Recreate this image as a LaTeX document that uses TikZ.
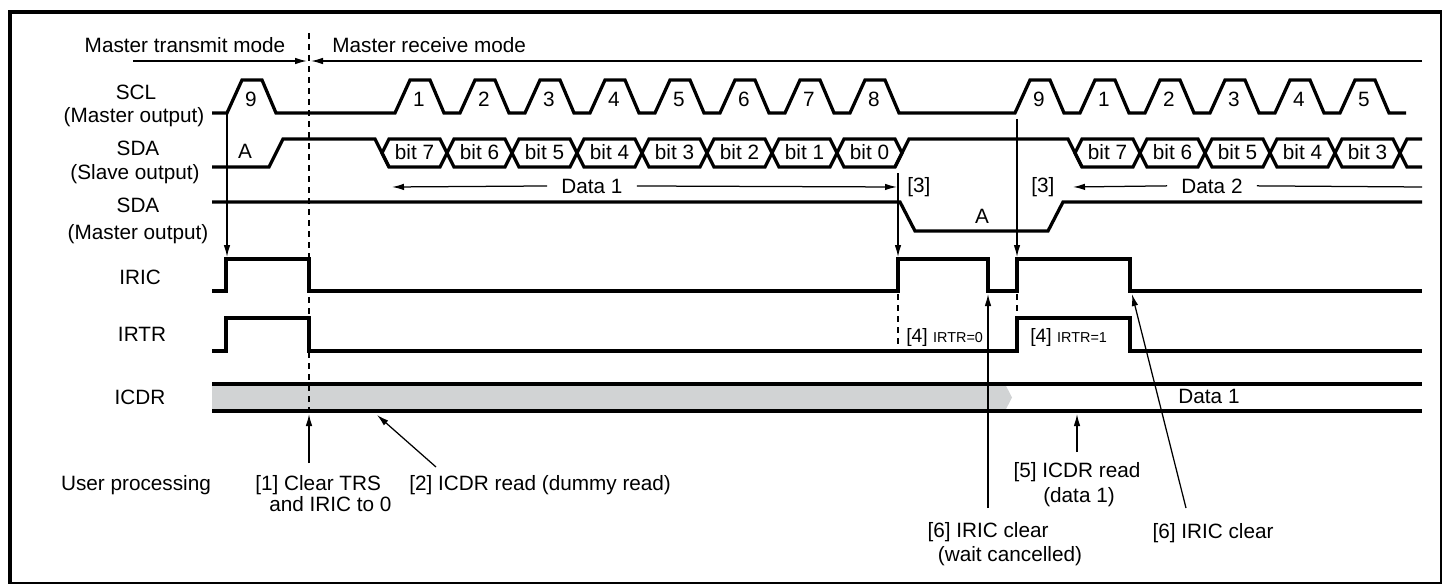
\documentclass[tikz,border=0pt]{standalone}
\usepackage{fontspec}
\setmainfont{Liberation Sans}
\usetikzlibrary{arrows.meta}
\newcommand{\tdfont}{\fontsize{11.8}{14}\selectfont}
\newcommand{\tdmid}{\fontsize{11}{13}\selectfont}
\newcommand{\tdsmall}{\fontsize{8.2}{10}\selectfont}
\definecolor{regfill}{RGB}{209,211,212}
\begin{document}
\begin{tikzpicture}[
        x=0.2mm, y=-0.2mm,
        >={Latex[length=2.4mm,width=1.3mm]},
        wave/.style={line width=0.65mm},
        thinline/.style={line width=0.25mm},
        arr/.style={->, thinline},
        dashline/.style={thinline, dash pattern=on 1.2mm off 1mm},
        frame/.style={line width=0.8mm},
        every node/.style={font=\tdfont, inner sep=0pt},
        txt/.style={anchor=base}
    ]
    \useasboundingbox (0,0) rectangle (1442,584);
    \draw[frame] (10,12.5) rectangle (1442,584);

    % modes
    \node[txt] (txmode) at (185,53) {Master transmit mode};
    \node[txt, anchor=base west] (rxmode) at (332,53) {Master receive mode};
    \coordinate (modeL) at (133,61);
    \coordinate (modeR) at (1422,61);
    \coordinate (modeA) at (307,61);
    \coordinate (modeB) at (311,61);
    \draw[arr] (modeL) -- (modeA);
    \draw[arr] (modeR) -- (modeB);

    % signal names
    \node[txt] (sclname) at (136,99.5) {SCL};
    \node[txt] (sclsrc) at (134,122.5) {(Master output)};
    \node[txt] (sdasname) at (138,155.5) {SDA};
    \node[txt] (sdassrc) at (135,179.5) {(Slave output)};
    \node[txt] (sdamname) at (138,212) {SDA};
    \node[txt] (sdamsrc) at (138,239) {(Master output)};
    \node[txt] (iricname) at (140,284.5) {IRIC};
    \node[txt] (irtrname) at (142,341.5) {IRTR};
    \node[txt] (icdrname) at (140,404.5) {ICDR};
    \node[txt] (userproc) at (136,490) {User processing};

    % ICDR
    \fill[regfill] (212,384) -- (1005,384) -- (1012,397.5) -- (1005,411) -- (212,411) -- cycle;
    \draw[wave] (212,384) -- (1422,384);
    \draw[wave] (212,411) -- (1422,411);
    \node[txt] (icdrdata) at (1209,403) {Data 1};

    % mode change
    \draw[dashline] (309,33) -- (309,412);

    % SCL
    \draw[wave] (212,113)
        foreach \p in {227,395,460,525,590,655,720,785,850,1015,1080,1145,1210,1275,1340}
        { -- (\p,113) -- ++(15,-33) -- ++(20,0) -- ++(14,33) } -- (1406,113);
    \foreach \p/\n in {227/9,395/1,460/2,525/3,590/4,655/5,720/6,785/7,850/8,
                       1015/9,1080/1,1145/2,1210/3,1275/4,1340/5}
        \node[txt] (scl\p) at (\p+24,107) {\n};

    % SDA (slave)
    \draw[wave] (212,167) -- (269,167) -- (283,139) -- (375,139) -- (389,167);
    \node[txt] (slvack) at (245,159) {A};
    \foreach \c/\b in {382/7,447/6,512/5,577/4,642/3,707/2,772/1,837/0} {
        \draw[wave] (\c,153) -- ++(7,-14) -- ++(51,0) -- ++(7,14) -- ++(-7,14) -- ++(-51,0) -- cycle;
        \node[txt] (bitA\b) at (\c+32.5,160) {bit \b};
    }
    \draw[wave] (895,167) -- (909,139) -- (1068,139) -- (1082,167);
    \foreach \c/\b in {1075/7,1140/6,1205/5,1270/4,1335/3} {
        \draw[wave] (\c,153) -- ++(7,-14) -- ++(51,0) -- ++(7,14) -- ++(-7,14) -- ++(-51,0) -- cycle;
        \node[txt] (bitB\b) at (\c+32.5,160) {bit \b};
    }
    \draw[wave] (1422,139) -- (1407,139) -- (1400,153) -- (1407,167) -- (1422,167);

    % data ranges
    \node[txt] (data1) at (592,193) {Data 1};
    \node[txt] (data2) at (1212,193) {Data 2};
    \node[txt, anchor=base west] (stop3a) at (907,192) {[3]};
    \node[txt, anchor=base west] (stop3b) at (1031,192) {[3]};
    \coordinate (d1L) at (392,187);
    \coordinate (d1R) at (897,187);
    \coordinate (d2L) at (1073,187);
    \coordinate (d2R) at (1422,187);
    \draw[arr] ([xshift=-2.8mm]data1.west) -- (d1L);
    \draw[arr] ([xshift=2.8mm]data1.east) -- (d1R);
    \draw[arr] ([xshift=-2.8mm]data2.west) -- (d2L);
    \draw[thinline] ([xshift=2.8mm]data2.east) -- (d2R);

    % SDA (master)
    \draw[wave] (212,202) -- (900,202) -- (915,231) -- (1048,231) -- (1063,202) -- (1422,202);
    \node[txt] (mstack) at (982,223) {A};

    % IRIC, IRTR
    \draw[wave] (212,291) -- (226,291) -- (226,259) -- (309,259) -- (309,291) -- (898,291)
        -- (898,259) -- (988,259) -- (988,291) -- (1017,291) -- (1017,259) -- (1130,259)
        -- (1130,291) -- (1422,291);
    \draw[wave] (212,351) -- (226,351) -- (226,318) -- (309,318) -- (309,351) -- (1017,351)
        -- (1017,318) -- (1130,318) -- (1130,351) -- (1422,351);
    \node[txt, anchor=base west, font=\tdmid] (irtr0) at (906,342) {[4] {\tdsmall IRTR=0}};
    \node[txt, anchor=base west, font=\tdmid] (irtr1) at (1030,342) {[4] {\tdsmall IRTR=1}};

    % interrupt requests
    \coordinate (scl9a) at (227,113);
    \coordinate (iricA) at (227,257);
    \coordinate (bit0end) at (898,173);
    \coordinate (iricB) at (898,257);
    \coordinate (scl9b) at (1017,119);
    \coordinate (iricC) at (1017,257);
    \draw[arr] (scl9a) -- (iricA);
    \draw[arr] (bit0end) -- (iricB);
    \draw[arr] (scl9b) -- (iricC);
    \draw[dashline] (898,294) -- (898,351);
    \draw[dashline] (1017,294) -- (1017,318);

    % user processing
    \node[txt, anchor=base west] (step1a) at (255,490) {[1] Clear TRS};
    \node[txt, anchor=base west] (step1b) at (269,511) {and IRIC to 0};
    \node[txt, anchor=base west] (step2) at (409,490) {[2] ICDR read (dummy read)};
    \node[txt] (step5a) at (1077,477) {[5] ICDR read};
    \node[txt] (step5b) at (1079,502) {(data 1)};
    \node[txt] (step6a) at (988,537) {[6] IRIC clear};
    \node[txt] (step6b) at (1010,561) {(wait cancelled)};
    \node[txt] (step6c) at (1213,538) {[6] IRIC clear};
    \coordinate (s1) at (309,463);
    \coordinate (s1t) at (309,414);
    \coordinate (s2) at (436,467);
    \coordinate (s2t) at (377,415);
    \coordinate (s5) at (1077,452);
    \coordinate (s5t) at (1077,414);
    \coordinate (s6) at (988,508);
    \coordinate (s6t) at (988,294);
    \coordinate (s6r) at (1186,508);
    \coordinate (s6rt) at (1132,294);
    \draw[arr] (s1) -- (s1t);
    \draw[arr] (s2) -- (s2t);
    \draw[arr] (s5) -- (s5t);
    \draw[arr] (s6) -- (s6t);
    \draw[arr] (s6r) -- (s6rt);
\end{tikzpicture}
\end{document}
